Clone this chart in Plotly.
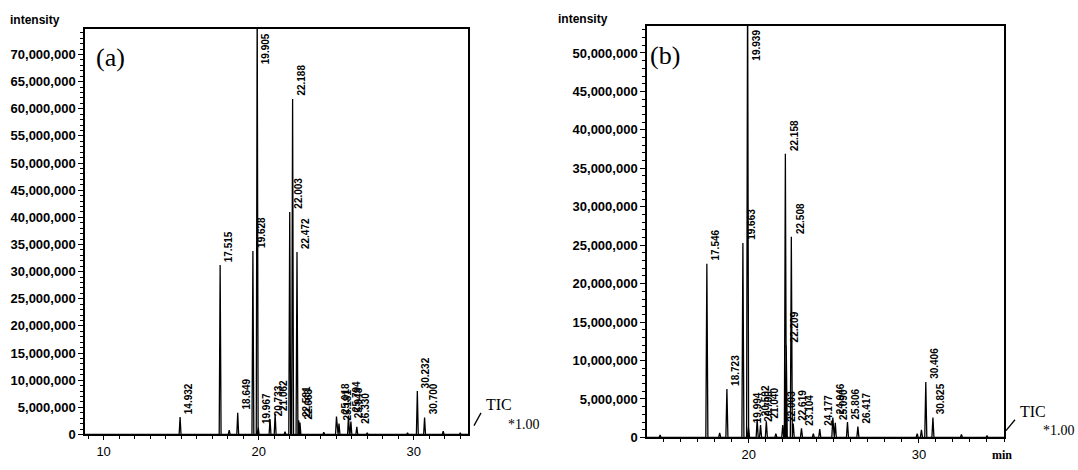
import plotly.graph_objects as go

# ---------------- data (retention time in min, intensity) ----------------
rt_a = [14.932, 17.515, 18.100, 18.649, 19.628, 19.905, 19.967, 20.733, 21.062,
        21.700, 22.003, 22.188, 22.472, 22.581, 22.663, 24.200, 25.018, 25.181,
        25.794, 25.948, 26.330, 27.000, 29.600, 30.232, 30.700, 31.900, 33.000]
h_a = [3.2e6, 31.2e6, 0.8e6, 4.0e6, 33.8e6, 80.0e6, 1.4e6, 2.8e6, 3.8e6,
       0.5e6, 41.0e6, 61.8e6, 33.6e6, 2.6e6, 2.2e6, 0.4e6, 3.3e6, 2.0e6,
       3.5e6, 2.4e6, 1.4e6, 0.3e6, 0.3e6, 8.0e6, 3.1e6, 0.6e6, 0.3e6]
lbl_a = ["14.932", "17.515", "", "18.649", "19.628", "19.905", "19.967", "20.733", "21.062",
         "", "22.003", "22.188", "22.472", "22.581", "22.663", "", "25.018", "25.181",
         "25.794", "25.948", "26.330", "", "", "30.232", "30.700", "", ""]

rt_b = [14.800, 17.546, 18.300, 18.723, 19.663, 19.939, 19.994, 20.502, 20.700,
        21.040, 21.600, 22.003, 22.158, 22.209, 22.508, 22.619, 23.104, 23.800,
        24.177, 24.946, 25.090, 25.806, 26.417, 29.900, 30.150, 30.406, 30.825,
        32.500, 34.000]
h_b = [0.3e6, 22.6e6, 0.6e6, 6.3e6, 25.3e6, 60.0e6, 1.4e6, 2.4e6, 1.6e6,
       2.1e6, 0.5e6, 1.6e6, 36.9e6, 12.0e6, 26.1e6, 1.8e6, 1.2e6, 0.5e6,
       1.1e6, 2.6e6, 1.9e6, 2.0e6, 1.4e6, 0.5e6, 1.0e6, 7.2e6, 2.6e6,
       0.4e6, 0.2e6]
lbl_b = ["", "17.546", "", "18.723", "19.663", "19.939", "19.994", "20.502", "20.700",
         "21.040", "", "22.003", "22.158", "22.209", "22.508", "22.619", "23.104", "",
         "24.177", "24.946", "25.090", "25.806", "26.417", "", "", "30.406", "30.825",
         "", ""]

x_range_a = [8.8, 33.5]
y_range_a = [0, 74.7e6]
x_range_b = [14.03, 35.0]
y_range_b = [0, 53.5e6]

W, H = 1078, 470
PEAK_HW = 0.06  # half width of drawn peak (min)


def trace_xy(rts, hs, xr):
    pts = sorted(zip(rts, hs))
    xs, ys = [xr[0]], [0]
    for t, h in pts:
        xs += [t - PEAK_HW, t, t + PEAK_HW]
        ys += [0, h, 0]
    xs.append(xr[1])
    ys.append(0)
    return xs, ys


fig = go.Figure()
xa, ya = trace_xy(rt_a, h_a, x_range_a)
xb, yb = trace_xy(rt_b, h_b, x_range_b)
fig.add_trace(go.Scatter(x=xa, y=ya, mode="lines", line=dict(color="black", width=1.3),
                         xaxis="x", yaxis="y", showlegend=False, hoverinfo="skip"))
fig.add_trace(go.Scatter(x=xb, y=yb, mode="lines", line=dict(color="black", width=1.3),
                         xaxis="x2", yaxis="y2", showlegend=False, hoverinfo="skip"))

lab_font = dict(family="Liberation Sans, Arial, sans-serif", size=10, color="black")
annotations = []
for rts, hs, lbls, yr, xref, yref in [(rt_a, h_a, lbl_a, y_range_a, "x", "y"),
                                      (rt_b, h_b, lbl_b, y_range_b, "x2", "y2")]:
    for t, h, l in zip(rts, hs, lbls):
        if not l:
            continue
        clipped = h >= yr[1]
        annotations.append(dict(
            x=t, y=(yr[1] if clipped else h), xref=xref, yref=yref,
            text="<b>%s</b>" % l, textangle=-90, showarrow=False,
            xanchor="left", yanchor=("top" if clipped else "bottom"),
            xshift=1, yshift=(-2 if clipped else 1), font=lab_font))


def pa(x, y, text, size, family, bold=False, xanchor="left"):
    return dict(x=x / W, y=1 - y / H, xref="paper", yref="paper", showarrow=False,
                text=("<b>%s</b>" % text if bold else text), xanchor=xanchor, yanchor="middle",
                font=dict(family=family, size=size, color="black"))


sans = "Liberation Sans, Arial, sans-serif"
serif = "Liberation Serif, Times New Roman, serif"
annotations += [
    pa(8, 20, "intensity", 12, sans, bold=True),
    pa(556, 19, "intensity", 12, sans, bold=True),
    pa(94, 58, "(a)", 26, serif),
    pa(648, 56, "(b)", 26, serif),
    pa(484, 412, "TIC", 16, serif),
    pa(506, 432, "*1.00", 14, serif),
    pa(1018, 419, "TIC", 16, serif),
    pa(1077, 438, "*1.00", 14, serif, xanchor="right"),
    pa(990, 463, "min", 12, serif, bold=True),
]

shapes = [
    dict(type="line", xref="paper", yref="paper", x0=474 / W, y0=1 - 433 / H,
         x1=481 / W, y1=1 - 420 / H, line=dict(color="black", width=1.3)),
    dict(type="line", xref="paper", yref="paper", x0=1006 / W, y0=1 - 438 / H,
         x1=1015 / W, y1=1 - 427 / H, line=dict(color="black", width=1.3)),
]

xtick_font = dict(family=sans, size=13, color="black")


def yaxis_cfg(domain, yr, dtick_major):
    return dict(domain=domain, range=yr, showgrid=False, zeroline=False,
                showline=True, linecolor="black", linewidth=1.5, mirror=True,
                ticks="outside", ticklen=5, tickwidth=1.3, tickcolor="black",
                dtick=dtick_major, tick0=0, tickformat=",d",
                tickfont=dict(family=sans, size=13, color="black", weight="bold"),
                minor=dict(dtick=1e6, ticks="outside", ticklen=3, tickcolor="black", tickwidth=1))


def xaxis_cfg(domain, xr, anchor):
    return dict(domain=domain, range=xr, anchor=anchor, showgrid=False, zeroline=False,
                showline=True, linecolor="black", linewidth=1.8, mirror=True,
                ticks="outside", ticklen=4, tickwidth=1.3, tickcolor="black",
                dtick=10, tick0=0, tickfont=xtick_font,
                minor=dict(dtick=1, ticks="outside", ticklen=3, tickcolor="black", tickwidth=1))


fig.update_layout(
    width=W, height=H, margin=dict(l=0, r=0, t=0, b=0),
    paper_bgcolor="white", plot_bgcolor="white",
    xaxis=xaxis_cfg([85 / W, 468 / W], x_range_a, "y"),
    yaxis=yaxis_cfg([1 - 442 / H, 1 - 29.5 / H], y_range_a, 5e6) | dict(anchor="x"),
    xaxis2=xaxis_cfg([647 / W, 1004 / W], x_range_b, "y2"),
    yaxis2=yaxis_cfg([1 - 445 / H, 1 - 26.5 / H], y_range_b, 5e6) | dict(anchor="x2"),
    annotations=annotations, shapes=shapes,
)

fig.write_html("out.html", config={"displayModeBar": False},
               post_script="document.body.style.margin='0';document.body.style.overflow='hidden';")
